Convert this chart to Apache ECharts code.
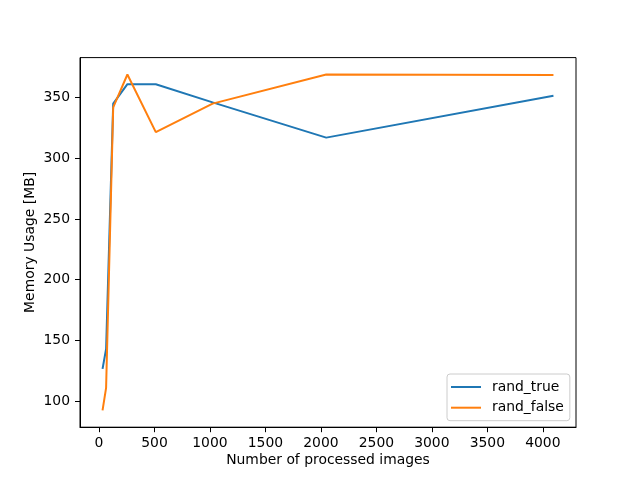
<!DOCTYPE html>
<html>
<head>
<meta charset="utf-8">
<script src="https://cdn.jsdelivr.net/npm/echarts@6/dist/echarts.min.js"></script>
<style>html,body{margin:0;padding:0;background:#fff}#c{width:640px;height:480px}</style>
</head>
<body>
<div id="c"></div>
<script>
const images = [32, 64, 128, 256, 512, 1024, 2048, 4096];
const randTrue = [126.6, 143, 345, 361, 361, 346, 317, 351.5];
const randFalse = [92.5, 111, 342, 369, 321.5, 345, 369, 368.5];
const xTicks = [0, 500, 1000, 1500, 2000, 2500, 3000, 3500, 4000];
const yTicks = [100, 150, 200, 250, 300, 350];

const font = 'DejaVu Sans';
const fs = 13.9;
const chart = echarts.init(document.getElementById('c'), null, {renderer: 'canvas'});
chart.setOption({
  animation: false,
  backgroundColor: '#fff',
  grid: {left: 80, right: 64, top: 57.6, bottom: 52.8, outerBoundsMode: 'none', containLabel: false,
         show: true, borderColor: '#000', borderWidth: 1, backgroundColor: 'transparent'},
  legend: {
    orient: 'vertical', left: 447, top: 374, padding: [5, 6, 5, 4], itemGap: 4.7,
    itemWidth: 30, itemHeight: 2, icon: 'rect',
    borderColor: '#cccccc', borderWidth: 1, borderRadius: 3, backgroundColor: 'rgba(255,255,255,0.8)',
    textStyle: {fontFamily: font, fontSize: fs, color: '#000', lineHeight: 16, padding: [0, 0, 0, 6]},
    data: ['rand_true', 'rand_false']
  },
  xAxis: {
    type: 'value', min: -171.2, max: 4299.2,
    name: 'Number of processed images', nameLocation: 'middle', nameGap: 26, nameMoveOverlap: false,
    nameTextStyle: {fontFamily: font, fontSize: fs, color: '#000'},
    axisLine: {show: true, onZero: false, lineStyle: {color: '#000', width: 1}},
    axisTick: {show: true, inside: false, length: 5, lineStyle: {color: '#000', width: 1}, customValues: xTicks},
    axisLabel: {fontFamily: font, fontSize: fs, color: '#000', margin: 9, customValues: xTicks,
                formatter: v => String(v)},
    splitLine: {show: false}
  },
  yAxis: {
    type: 'value', min: 78.6, max: 382.9,
    name: 'Memory Usage [MB]', nameLocation: 'middle', nameGap: 42.5, nameMoveOverlap: false,
    nameTextStyle: {fontFamily: font, fontSize: fs, color: '#000'},
    axisLine: {show: true, onZero: false, lineStyle: {color: '#000', width: 1}},
    axisTick: {show: true, inside: false, length: 5, lineStyle: {color: '#000', width: 1}, customValues: yTicks},
    axisLabel: {fontFamily: font, fontSize: fs, color: '#000', margin: 10, customValues: yTicks,
                formatter: v => String(v)},
    splitLine: {show: false}
  },
  series: [
    {name: 'rand_true', type: 'line', symbol: 'none', color: '#1f77b4',
     lineStyle: {width: 2, color: '#1f77b4'},
     data: images.map((x, i) => [x, randTrue[i]])},
    {name: 'rand_false', type: 'line', symbol: 'none', color: '#ff7f0e',
     lineStyle: {width: 2, color: '#ff7f0e'},
     data: images.map((x, i) => [x, randFalse[i]])}
  ]
});
</script>
</body>
</html>
